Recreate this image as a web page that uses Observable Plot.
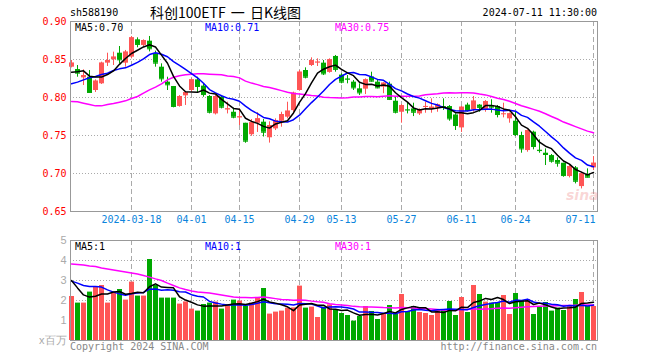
<!DOCTYPE html>
<html><head><meta charset="utf-8">
<script src="https://cdn.jsdelivr.net/npm/d3@7"></script>
<script src="https://cdn.jsdelivr.net/npm/@observablehq/plot@0.6"></script>
<style>
body{margin:0;background:#fff;}
#wrap{position:relative;width:660px;height:360px;overflow:hidden;font-family:"DejaVu Sans Mono",monospace;font-size:10px;}
#wrap svg{position:absolute;left:0;}
.t{position:absolute;white-space:nowrap;line-height:12px;}
</style></head><body><div id="wrap"></div>
<script>
const dates = [
"2024-03-04","2024-03-05","2024-03-06","2024-03-07","2024-03-08","2024-03-11","2024-03-12","2024-03-13","2024-03-14","2024-03-15",
"2024-03-18","2024-03-19","2024-03-20","2024-03-21","2024-03-22","2024-03-25","2024-03-26","2024-03-27","2024-03-28","2024-03-29",
"2024-04-01","2024-04-02","2024-04-03","2024-04-08","2024-04-09","2024-04-10","2024-04-11","2024-04-12","2024-04-15","2024-04-16",
"2024-04-17","2024-04-18","2024-04-19","2024-04-22","2024-04-23","2024-04-24","2024-04-25","2024-04-26","2024-04-29","2024-04-30",
"2024-05-06","2024-05-07","2024-05-08","2024-05-09","2024-05-10","2024-05-13","2024-05-14","2024-05-15","2024-05-16","2024-05-17",
"2024-05-20","2024-05-21","2024-05-22","2024-05-23","2024-05-24","2024-05-27","2024-05-28","2024-05-29","2024-05-30","2024-05-31",
"2024-06-03","2024-06-04","2024-06-05","2024-06-06","2024-06-07","2024-06-11","2024-06-12","2024-06-13","2024-06-14","2024-06-17",
"2024-06-18","2024-06-19","2024-06-20","2024-06-21","2024-06-24","2024-06-25","2024-06-26","2024-06-27","2024-06-28","2024-07-01",
"2024-07-02","2024-07-03","2024-07-04","2024-07-05","2024-07-08","2024-07-09","2024-07-10","2024-07-11"];

const open = [0.8399,0.8368,0.8258,0.8267,0.8092,0.8180,0.8452,0.8496,0.8583,0.8452,
0.8531,0.8759,0.8685,0.8741,0.8575,0.8399,0.8202,0.8145,0.7882,0.8022,
0.8092,0.8232,0.8150,0.8013,0.7784,0.8005,0.7840,0.7806,0.7735,0.7661,
0.7510,0.7661,0.7675,0.7470,0.7587,0.7688,0.7741,0.7828,0.8092,0.8355,
0.8421,0.8460,0.8452,0.8330,0.8540,0.8295,0.8245,0.8202,0.8114,0.8110,
0.8270,0.8202,0.8136,0.8175,0.7951,0.7806,0.7840,0.7850,0.7784,0.7877,
0.7846,0.7864,0.7881,0.7881,0.7770,0.7600,0.7900,0.7838,0.7900,0.7835,
0.7895,0.7882,0.7781,0.7719,0.7688,0.7500,0.7302,0.7544,0.7306,0.7267,
0.7236,0.7171,0.7135,0.6960,0.7074,0.6828,0.6986,0.7074];
const high = [0.8487,0.8421,0.8364,0.8355,0.8232,0.8465,0.8583,0.8597,0.8671,0.8619,
0.8803,0.8785,0.8759,0.8803,0.8610,0.8443,0.8267,0.8145,0.8026,0.8070,
0.8246,0.8267,0.8179,0.8025,0.8030,0.8022,0.7938,0.7860,0.7850,0.7661,
0.7710,0.7800,0.7710,0.7680,0.7719,0.7806,0.7938,0.8070,0.8355,0.8390,
0.8522,0.8509,0.8487,0.8509,0.8553,0.8311,0.8289,0.8224,0.8180,0.8245,
0.8333,0.8224,0.8195,0.8202,0.8004,0.7907,0.7925,0.7925,0.7850,0.7938,
0.7982,0.7916,0.7982,0.7894,0.7785,0.7882,0.7925,0.8013,0.7907,0.7960,
0.7970,0.7895,0.7925,0.7794,0.7807,0.7543,0.7574,0.7557,0.7443,0.7324,
0.7250,0.7206,0.7135,0.7105,0.7092,0.7017,0.7061,0.7223];
const low = [0.8390,0.8267,0.8158,0.8057,0.8066,0.8171,0.8408,0.8421,0.8443,0.8399,
0.8509,0.8654,0.8663,0.8600,0.8399,0.8202,0.8092,0.7864,0.7873,0.7895,
0.8070,0.8057,0.8003,0.7784,0.7770,0.7850,0.7784,0.7720,0.7631,0.7398,
0.7490,0.7540,0.7480,0.7400,0.7565,0.7609,0.7719,0.7806,0.8083,0.8245,
0.8408,0.8408,0.8289,0.8320,0.8333,0.8180,0.8180,0.8092,0.8026,0.8039,
0.8202,0.8114,0.8050,0.7960,0.7784,0.7662,0.7784,0.7749,0.7763,0.7793,
0.7793,0.7806,0.7829,0.7688,0.7566,0.7540,0.7810,0.7807,0.7806,0.7806,
0.7794,0.7732,0.7732,0.7662,0.7487,0.7267,0.7280,0.7311,0.7267,0.7105,
0.7136,0.7083,0.6951,0.6942,0.6863,0.6797,0.6942,0.7039];
const close = [0.8452,0.8320,0.8289,0.8066,0.8215,0.8452,0.8487,0.8531,0.8496,0.8597,
0.8785,0.8698,0.8750,0.8641,0.8452,0.8246,0.8167,0.7882,0.8013,0.8066,
0.8232,0.8145,0.8039,0.7806,0.8013,0.7872,0.7850,0.7741,0.7745,0.7425,
0.7668,0.7719,0.7543,0.7631,0.7697,0.7776,0.7820,0.8057,0.8333,0.8267,
0.8487,0.8465,0.8311,0.8496,0.8370,0.8202,0.8240,0.8127,0.8061,0.8232,
0.8215,0.8127,0.8188,0.7975,0.7806,0.7894,0.7835,0.7806,0.7842,0.7882,
0.7872,0.7903,0.7877,0.7719,0.7631,0.7872,0.7829,0.7952,0.7870,0.7945,
0.7873,0.7776,0.7785,0.7785,0.7513,0.7324,0.7566,0.7355,0.7302,0.7250,
0.7162,0.7136,0.6973,0.7092,0.6898,0.6995,0.6951,0.7135];
// volume in millions
const volume = [2.2,1.87,1.87,2.42,2.7,2.75,1.87,2.37,2.55,2.02,
2.92,2.22,2.22,4.05,2.75,2.12,2.12,2.12,1.82,1.93,
1.57,1.47,1.8,1.87,1.92,1.57,1.73,2.02,1.97,1.73,
1.87,2.13,2.6,1.32,1.42,1.47,1.62,1.63,2.72,1.62,
1.67,1.15,1.67,1.78,1.55,1.35,1.25,0.97,1.2,1.7,
1.45,1.05,1.33,1.75,1.33,2.3,1.45,1.7,1.4,1.35,
1.25,1.5,1.48,1.95,1.25,2.15,1.4,2.75,2.3,1.92,
1.87,1.9,2.25,1.3,2.35,2.0,2.05,1.3,1.65,1.9,
1.47,1.62,1.5,1.7,2.05,2.4,1.7,1.7];

// moving-average values at the start of the window (earlier history not shown)
const ma5Head = [0.8333,0.8338,0.8351,0.8281];
const ma10Head = [0.8180,0.8202,0.8232,0.8259,0.8276,0.8302,0.8320,0.8355,0.8377];
const ma30Head = [0.7947,0.7943,0.7925,0.7907,0.7890,0.7890,0.7907,0.7921,0.7938,0.7956,
0.7986,0.8013,0.8057,0.8101,0.8136,0.8180,0.8232,0.8267,0.8285,0.8298,
0.8307,0.8311,0.8311,0.8306,0.8302,0.8298,0.8284,0.8276,0.8258];
const vma5Head = [3.0,2.63,2.28,2.17];
const vma10Head = [2.97,2.87,2.75,2.7,2.7,2.67,2.53,2.42,2.33];
const vma30Head = [3.83,3.8,3.77,3.73,3.7,3.63,3.58,3.53,3.48,3.43,
3.38,3.32,3.25,3.17,3.08,3.0,2.87,2.75,2.63,2.55,
2.48,2.43,2.4,2.37,2.33,2.28,2.23,2.17,2.15];

const priceTicks = [0.65,0.70,0.75,0.80,0.85,0.90];
const volTicks = [0,1,2,3,4,5];
const tickDates = ["2024-03-18","2024-04-01","2024-04-15","2024-04-29","2024-05-13","2024-05-27","2024-06-11","2024-06-24","2024-07-11"];
const tickLabels = ["2024-03-18","04-01","04-15","04-29","05-13","05-27","06-11","06-24","07-11"];

const code = "sh588190";
const title = "科创100ETF 一 日K线图";
const stamp = "2024-07-11 11:30:00";

// ---------------------------------------------------------------
const RED = "#ff5555", GREEN = "#00a800", GRID = "#aaaaaa", FRAME = "#999999";
const N = dates.length;
const idx = d3.range(N);
const rows = idx.map(i => ({i, o: open[i], h: high[i], l: low[i], c: close[i], v: volume[i], up: close[i] >= open[i]}));
const col = d => d.up ? RED : GREEN;
const movingAvg = (vals, n, head) => vals.map((_, i) => i < n - 1 ? head[i] : d3.mean(vals.slice(i - n + 1, i + 1)));
const ma5 = movingAvg(close, 5, ma5Head), ma10 = movingAvg(close, 10, ma10Head), ma30 = movingAvg(close, 30, ma30Head);
const vma5 = movingAvg(volume, 5, vma5Head), vma10 = movingAvg(volume, 10, vma10Head), vma30 = movingAvg(volume, 30, vma30Head);
const ticks = tickDates.map((d, k) => ({i: dates.indexOf(d), label: tickLabels[k]}));
const xDomain = [-1/6, N - 1/3];
const font = {fontFamily: '"DejaVu Sans Mono", monospace', fontSize: "10px", background: "transparent", overflow: "visible"};

const wrap = document.getElementById("wrap");

const priceChart = Plot.plot({
  width: 660, height: 230,
  marginLeft: 70, marginRight: 63, marginTop: 21, marginBottom: 19,
  style: font,
  x: {domain: xDomain, axis: null},
  y: {domain: [0.65, 0.90], axis: null},
  marks: [
    Plot.ruleY(priceTicks.slice(1, -1), {stroke: GRID, strokeDasharray: "1,2"}),
    Plot.ruleX(ticks, {x: "i", stroke: GRID, strokeDasharray: "5,3"}),
    Plot.ruleX(rows, {x: "i", y1: "l", y2: "h", stroke: col}),
    Plot.ruleX(rows, {x: "i", y1: "o", y2: "c", stroke: col, strokeWidth: 5}),
    Plot.ruleY(rows, {y: "c", x1: d => d.i - 1/3, x2: d => d.i + 1/2, stroke: col}),
    Plot.line(idx, {x: i => i, y: i => ma30[i], stroke: "#ff00ff"}),
    Plot.line(idx, {x: i => i, y: i => ma10[i], stroke: "#0000ff"}),
    Plot.line(idx, {x: i => i, y: i => ma5[i], stroke: "#000000"}),
    Plot.frame({stroke: FRAME}),
    Plot.axisY({ticks: priceTicks, tickFormat: d => d.toFixed(2), tickSize: 0, tickPadding: 4, color: "#ff0000", label: null}),
    Plot.text(ticks.slice(0, -1), {x: "i", text: "label", frameAnchor: "bottom", dy: 11, fill: "#0a84dc"}),
    Plot.text(ticks.slice(-1), {x: "i", text: "label", frameAnchor: "bottom", dy: 11, dx: 2, textAnchor: "end", fill: "#0a84dc"})
  ]
});
priceChart.style.top = "0px";
wrap.appendChild(priceChart);

const volChart = Plot.plot({
  width: 660, height: 122,
  marginLeft: 70, marginRight: 63, marginTop: 10, marginBottom: 12,
  style: font,
  x: {domain: xDomain, axis: null},
  y: {domain: [0, 5], axis: null},
  marks: [
    Plot.ruleY(volTicks.slice(1, -1), {stroke: GRID, strokeDasharray: "1,2"}),
    Plot.ruleX(ticks, {x: "i", stroke: GRID, strokeDasharray: "5,3"}),
    Plot.ruleX(rows, {x: "i", y1: d => 0, y2: "v", stroke: col, strokeWidth: 5}),
    Plot.line(idx, {x: i => i, y: i => vma30[i], stroke: "#ff00ff"}),
    Plot.line(idx, {x: i => i, y: i => vma10[i], stroke: "#0000ff"}),
    Plot.line(idx, {x: i => i, y: i => vma5[i], stroke: "#000000"}),
    Plot.frame({stroke: FRAME}),
    Plot.axisY({ticks: volTicks, tickFormat: d => d === 0 ? "x百万" : String(d), tickSize: 0, tickPadding: 4, color: "#aaaaaa", fontFamily: "Liberation Sans, sans-serif", fontSize: 11, label: null})
  ]
});
volChart.style.top = "230px";
wrap.appendChild(volChart);

function label(text, css) {
  const s = document.createElement("div");
  s.className = "t";
  s.textContent = text;
  Object.assign(s.style, css);
  wrap.appendChild(s);
  return s;
}
const last = N - 1;
label(code, {left: "70px", top: "7px", color: "#000"});
label(title, {left: "150px", top: "5px", fontFamily: '"Noto Sans CJK SC", sans-serif', fontSize: "14px", lineHeight: "14px", color: "#000", wordSpacing: "2px"});
label(stamp, {right: "63px", top: "7px", color: "#000"});
label("MA5:" + ma5[last].toFixed(2), {left: "75px", top: "22px", color: "#000"});
label("MA10:" + ma10[last].toFixed(2), {left: "205px", top: "22px", color: "#0000ff"});
label("MA30:" + ma30[last].toFixed(2), {left: "335px", top: "22px", color: "#ff00ff"});
label("MA5:" + Math.floor(vma5[last]), {left: "75px", top: "241px", color: "#000"});
label("MA10:" + Math.floor(vma10[last]), {left: "205px", top: "241px", color: "#0000ff"});
label("MA30:" + Math.floor(vma30[last]), {left: "335px", top: "241px", color: "#ff00ff"});
label("Copyright 2024 SINA.COM", {left: "70px", top: "341px", color: "#888"});
label("http://finance.sina.com.cn", {right: "63px", top: "341px", color: "#888"});
label("sina", {left: "566px", top: "189px", fontFamily: '"DejaVu Sans", sans-serif', fontStyle: "italic", fontWeight: "bold", fontSize: "14px", color: "rgba(235,110,110,0.28)"});
</script></body></html>
